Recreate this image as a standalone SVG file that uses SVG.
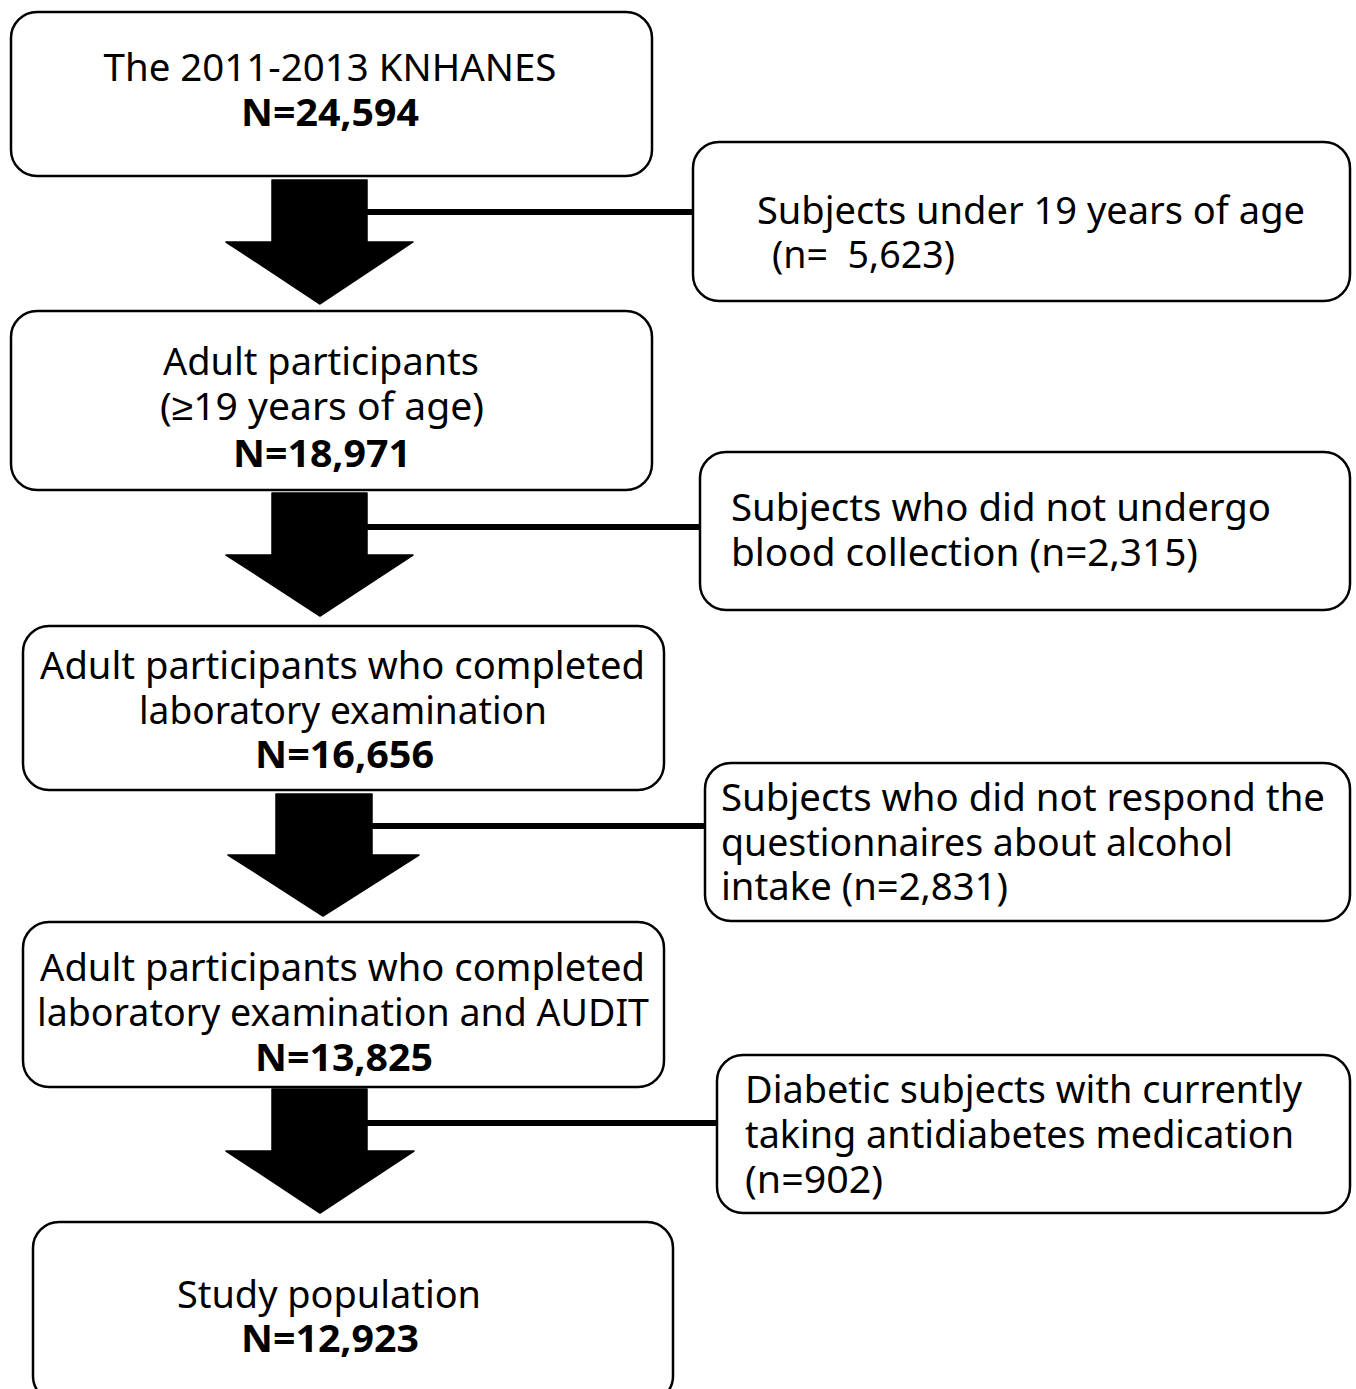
<svg xmlns="http://www.w3.org/2000/svg" width="1356" height="1389" viewBox="0 0 1356 1389">
<style>
.box{fill:#fff;stroke:#000;stroke-width:2.5}
.t{font-family:"Noto Sans","Liberation Sans",sans-serif;font-size:38px;fill:#000}
.b{font-weight:bold}
.c{text-anchor:middle}
.ln{stroke:#000;stroke-width:6;fill:none}
.ar{fill:#000;stroke:#000;stroke-width:1.5;stroke-linejoin:round}
</style>
<rect width="1356" height="1389" fill="#fff"/>
<g id="connectors">
<line class="ln" x1="360" y1="212" x2="694" y2="212"/>
<path class="ar" d="M272,180 H367 V242 H413 L320,304 L226,242 H272 Z"/>
<line class="ln" x1="360" y1="527" x2="701" y2="527"/>
<path class="ar" d="M272,493 H367 V555 H413 L320,616 L226,555 H272 Z"/>
<line class="ln" x1="365" y1="826" x2="706" y2="826"/>
<path class="ar" d="M276,794 H372 V855 H419 L323,916 L228,855 H276 Z"/>
<line class="ln" x1="360" y1="1123" x2="718" y2="1123"/>
<path class="ar" d="M272,1089 H367 V1151 H414 L320,1213 L226,1151 H272 Z"/>
</g>
<g id="n1">
<rect class="box" x="11" y="12" width="641" height="164" rx="26"/>
<text class="t c" x="330" y="81" textLength="453" lengthAdjust="spacingAndGlyphs">The 2011-2013 KNHANES</text>
<text class="t c b" x="330" y="126" textLength="178" lengthAdjust="spacingAndGlyphs">N=24,594</text>
</g>
<g id="e1">
<rect class="box" x="693" y="142" width="657" height="159" rx="26"/>
<text class="t" x="757" y="224" textLength="548" lengthAdjust="spacingAndGlyphs">Subjects under 19 years of age</text>
<text class="t" x="772" y="268" textLength="183" lengthAdjust="spacingAndGlyphs" xml:space="preserve">(n=  5,623)</text>
</g>
<g id="n2">
<rect class="box" x="11" y="311" width="641" height="179" rx="26"/>
<text class="t c" x="321" y="375" textLength="316" lengthAdjust="spacingAndGlyphs">Adult participants</text>
<text class="t c" x="322" y="420" textLength="324" lengthAdjust="spacingAndGlyphs">(≥19 years of age)</text>
<text class="t c b" x="322" y="467" textLength="178" lengthAdjust="spacingAndGlyphs">N=18,971</text>
</g>
<g id="e2">
<rect class="box" x="700" y="452" width="650" height="158" rx="26"/>
<text class="t" x="731" y="521" textLength="540" lengthAdjust="spacingAndGlyphs">Subjects who did not undergo</text>
<text class="t" x="731" y="566" textLength="467" lengthAdjust="spacingAndGlyphs">blood collection (n=2,315)</text>
</g>
<g id="n3">
<rect class="box" x="23" y="626" width="641" height="164" rx="26"/>
<text class="t c" x="342.5" y="679" textLength="605" lengthAdjust="spacingAndGlyphs">Adult participants who completed</text>
<text class="t c" x="343" y="724" textLength="408" lengthAdjust="spacingAndGlyphs">laboratory examination</text>
<text class="t c b" x="344.5" y="768" textLength="179" lengthAdjust="spacingAndGlyphs">N=16,656</text>
</g>
<g id="e3">
<rect class="box" x="705" y="763" width="645" height="158" rx="26"/>
<text class="t" x="721" y="811" textLength="604" lengthAdjust="spacingAndGlyphs">Subjects who did not respond the</text>
<text class="t" x="721" y="856" textLength="512" lengthAdjust="spacingAndGlyphs">questionnaires about alcohol</text>
<text class="t" x="721" y="900" textLength="287" lengthAdjust="spacingAndGlyphs">intake (n=2,831)</text>
</g>
<g id="n4">
<rect class="box" x="23" y="922" width="641" height="165" rx="26"/>
<text class="t c" x="342.5" y="981" textLength="605" lengthAdjust="spacingAndGlyphs">Adult participants who completed</text>
<text class="t c" x="343" y="1026" textLength="612" lengthAdjust="spacingAndGlyphs">laboratory examination and AUDIT</text>
<text class="t c b" x="344" y="1071" textLength="178" lengthAdjust="spacingAndGlyphs">N=13,825</text>
</g>
<g id="e4">
<rect class="box" x="717" y="1055" width="633" height="158" rx="26"/>
<text class="t" x="745" y="1103" textLength="557" lengthAdjust="spacingAndGlyphs">Diabetic subjects with currently</text>
<text class="t" x="745" y="1148" textLength="549" lengthAdjust="spacingAndGlyphs">taking antidiabetes medication</text>
<text class="t" x="745" y="1193" textLength="138" lengthAdjust="spacingAndGlyphs">(n=902)</text>
</g>
<g id="n5">
<rect class="box" x="33" y="1222" width="640" height="180" rx="26"/>
<text class="t c" x="329" y="1308" textLength="304" lengthAdjust="spacingAndGlyphs">Study population</text>
<text class="t c b" x="330" y="1352" textLength="178" lengthAdjust="spacingAndGlyphs">N=12,923</text>
</g>
</svg>
